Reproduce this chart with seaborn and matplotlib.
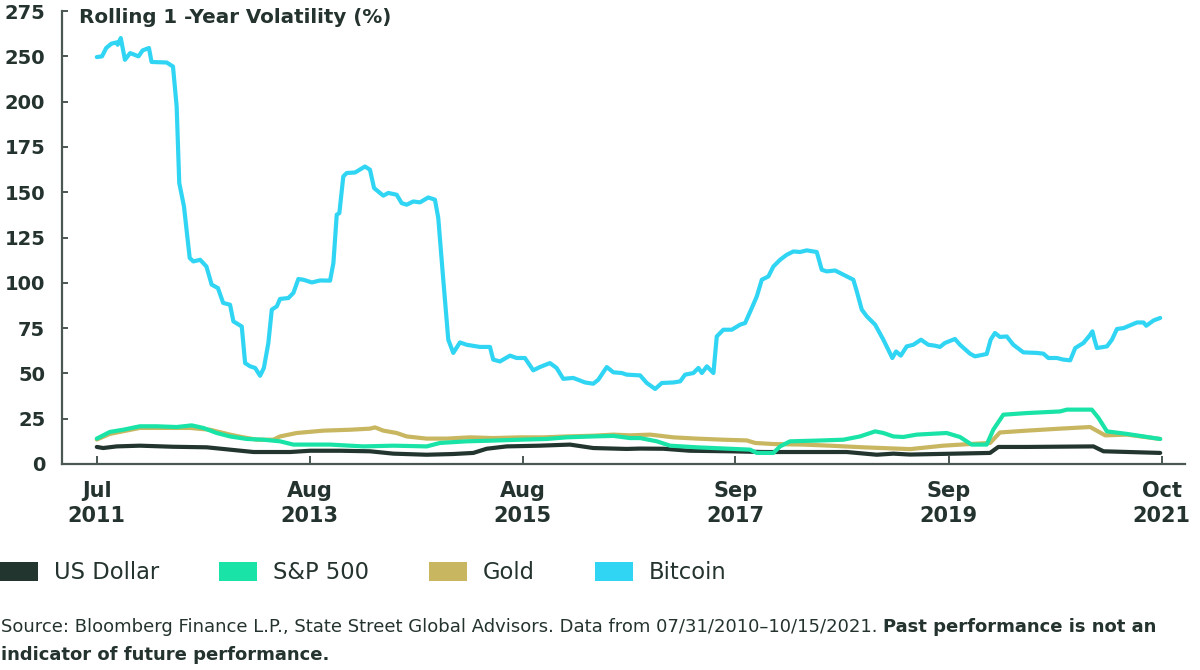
import numpy as np
import pandas as pd
import matplotlib
matplotlib.use("Agg")
import matplotlib.pyplot as plt
from matplotlib.patches import Patch
import seaborn as sns

sns.set_theme(style="white")
plt.rcParams["font.family"] = ["DejaVu Sans"]

# ---------------- data (decimal years, volatility %) ----------------
series_names = ["US Dollar", "S&P 500", "Gold", "Bitcoin"]
series_colors = ["#22362f", "#19e3a6", "#c8b660", "#30d5f3"]

btc_year = [2011.58, 2011.63, 2011.67, 2011.72, 2011.77, 2011.78, 2011.81, 2011.85, 2011.90, 2011.98,
            2012.02, 2012.08, 2012.105, 2012.25, 2012.31, 2012.345, 2012.37, 2012.415, 2012.47, 2012.505,
            2012.57, 2012.63, 2012.68, 2012.74, 2012.79, 2012.856, 2012.888, 2012.968, 2013.00, 2013.048,
            2013.096, 2013.144, 2013.18, 2013.223, 2013.256, 2013.304, 2013.335, 2013.415, 2013.463, 2013.511,
            2013.559, 2013.64, 2013.72, 2013.815, 2013.847, 2013.879, 2013.904, 2013.942, 2013.975, 2014.055,
            2014.150, 2014.198, 2014.237, 2014.278, 2014.326, 2014.374, 2014.454, 2014.502, 2014.550, 2014.613,
            2014.678, 2014.757, 2014.821, 2014.853, 2014.901, 2014.949, 2014.997, 2015.061, 2015.125, 2015.253,
            2015.349, 2015.380, 2015.445, 2015.541, 2015.605, 2015.684, 2015.764, 2015.828, 2015.924, 2015.988,
            2016.052, 2016.147, 2016.260, 2016.339, 2016.387, 2016.468, 2016.531, 2016.612, 2016.659, 2016.787,
            2016.851, 2016.931, 2016.995, 2017.106, 2017.171, 2017.218, 2017.298, 2017.346, 2017.379, 2017.427,
            2017.490, 2017.522, 2017.585, 2017.666, 2017.746, 2017.794, 2017.858, 2017.906, 2017.954, 2018.017,
            2018.065, 2018.129, 2018.194, 2018.257, 2018.321, 2018.385, 2018.481, 2018.529, 2018.577, 2018.657,
            2018.769, 2018.832, 2018.865, 2018.913, 2018.961, 2019.041, 2019.120, 2019.206, 2019.242, 2019.287,
            2019.344, 2019.407, 2019.481, 2019.551, 2019.616, 2019.663, 2019.711, 2019.807, 2019.855, 2019.951,
            2019.999, 2020.111, 2020.149, 2020.190, 2020.238, 2020.303, 2020.366, 2020.462, 2020.590, 2020.653,
            2020.701, 2020.782, 2020.845, 2020.910, 2020.958, 2021.037, 2021.095, 2021.123, 2021.143, 2021.166,
            2021.262, 2021.310, 2021.358, 2021.421, 2021.550, 2021.613, 2021.639, 2021.709, 2021.773]
btc_vol = [224.6, 225.0, 229.6, 232.0, 232.7, 231.4, 235.1, 223.1, 226.8, 225.0,
           228.3, 229.6, 221.9, 221.6, 219.4, 197.4, 155.1, 142.2, 113.7, 111.8,
           112.7, 109.0, 99.0, 97.1, 88.9, 87.9, 78.7, 75.9, 55.7, 53.9,
           53.0, 48.7, 53.0, 66.8, 85.2, 87.0, 91.1, 91.6, 94.4, 102.1,
           101.7, 100.2, 101.3, 101.2, 110.9, 137.6, 138.5, 158.7, 160.6, 160.9,
           164.2, 162.4, 152.3, 150.4, 148.1, 149.6, 148.6, 144.0, 143.1, 144.9,
           144.4, 147.1, 145.9, 135.8, 101.7, 68.6, 61.3, 67.1, 65.8, 64.6,
           64.6, 57.6, 56.6, 59.8, 58.5, 58.5, 51.7, 53.5, 55.7, 53.0,
           47.0, 47.5, 45.0, 44.3, 46.5, 53.5, 50.6, 50.2, 49.3, 48.9,
           44.7, 41.4, 44.7, 45.0, 45.6, 49.3, 50.2, 53.0, 50.2, 53.9,
           50.2, 70.4, 74.1, 74.1, 76.9, 77.8, 86.1, 92.5, 101.7, 103.5,
           109.0, 112.7, 115.5, 117.3, 117.0, 117.9, 117.0, 107.2, 106.3, 106.8,
           103.5, 101.7, 95.3, 85.2, 81.5, 76.9, 68.6, 58.5, 62.1, 59.8,
           64.9, 65.8, 68.6, 65.8, 65.3, 64.6, 66.8, 69.0, 65.8, 60.9,
           59.4, 60.7, 68.6, 72.3, 70.1, 70.4, 65.8, 61.6, 61.3, 60.9,
           58.5, 58.5, 57.6, 57.2, 64.0, 66.8, 70.8, 73.2, 68.6, 64.0,
           64.9, 68.6, 74.5, 75.0, 78.1, 78.1, 76.3, 79.2, 80.6]

spx_year = [2011.58, 2011.706, 2011.833, 2011.993, 2012.153, 2012.345, 2012.489, 2012.600, 2012.728, 2012.856,
            2013.016, 2013.175, 2013.335, 2013.463, 2013.623, 2013.815, 2014.007, 2014.134, 2014.422, 2014.742,
            2014.869, 2015.125, 2015.380, 2015.636, 2015.892, 2016.084, 2016.339, 2016.531, 2016.691, 2016.787,
            2016.947, 2017.074, 2017.330, 2017.650, 2017.842, 2017.906, 2018.065, 2018.129, 2018.225, 2018.481,
            2018.736, 2018.896, 2019.041, 2019.120, 2019.216, 2019.311, 2019.440, 2019.727, 2019.855, 2019.967,
            2020.111, 2020.174, 2020.270, 2020.494, 2020.813, 2020.878, 2021.117, 2021.181, 2021.262, 2021.453,
            2021.773]
spx_vol = [14.0, 17.7, 18.9, 20.8, 20.8, 20.4, 21.3, 19.9, 17.1, 15.2,
           13.8, 13.4, 12.5, 10.7, 10.7, 10.7, 10.1, 9.7, 10.1, 9.7,
           11.6, 12.5, 12.9, 13.4, 13.8, 14.7, 15.2, 15.5, 14.3, 14.3,
           12.5, 10.1, 9.2, 8.4, 7.9, 6.1, 6.1, 9.7, 12.5, 12.9,
           13.4, 15.2, 18.0, 17.1, 15.2, 14.9, 16.2, 17.1, 14.9, 10.7,
           10.7, 18.9, 27.2, 28.1, 29.0, 30.0, 30.0, 25.4, 18.0, 16.6,
           13.8]

gold_year = [2011.58, 2011.706, 2011.993, 2012.472, 2012.664, 2012.856, 2012.984, 2013.112, 2013.271, 2013.335,
             2013.495, 2013.751, 2014.007, 2014.198, 2014.246, 2014.326, 2014.454, 2014.550, 2014.742, 2014.934,
             2015.157, 2015.380, 2015.636, 2015.860, 2016.084, 2016.339, 2016.531, 2016.691, 2016.883, 2017.106,
             2017.330, 2017.585, 2017.810, 2017.890, 2018.065, 2018.353, 2018.609, 2018.928, 2019.376, 2019.695,
             2019.951, 2020.143, 2020.238, 2020.494, 2020.813, 2021.101, 2021.245, 2021.453, 2021.773]
gold_vol = [13.5, 16.6, 19.9, 19.9, 18.9, 16.2, 14.7, 13.4, 13.4, 15.2,
            17.1, 18.4, 18.9, 19.5, 20.2, 18.4, 17.1, 15.2, 14.0, 14.0,
            14.7, 14.3, 14.7, 14.7, 15.2, 15.6, 16.2, 15.8, 16.2, 14.7,
            14.0, 13.4, 13.0, 11.6, 11.0, 10.7, 10.1, 9.2, 8.2, 10.1,
            11.0, 11.6, 17.4, 18.4, 19.5, 20.4, 15.8, 16.2, 13.8]

usd_year = [2011.58, 2011.641, 2011.770, 2011.993, 2012.312, 2012.633, 2012.856, 2013.080, 2013.431, 2013.623,
            2013.911, 2014.198, 2014.422, 2014.742, 2014.997, 2015.189, 2015.317, 2015.509, 2015.828, 2016.116,
            2016.339, 2016.659, 2016.787, 2017.010, 2017.265, 2017.650, 2017.969, 2018.289, 2018.769, 2019.057,
            2019.216, 2019.376, 2020.143, 2020.222, 2020.494, 2021.133, 2021.229, 2021.773]
usd_vol = [9.4, 8.8, 9.7, 10.1, 9.5, 9.2, 7.9, 6.6, 6.6, 7.3,
           7.3, 7.0, 5.7, 5.1, 5.5, 6.1, 8.4, 9.7, 10.1, 10.7,
           8.8, 8.3, 8.5, 8.4, 7.3, 7.0, 6.6, 6.6, 6.6, 5.1,
           5.7, 5.2, 6.1, 9.4, 9.4, 9.7, 7.0, 6.1]

ytick_values = [0, 25, 50, 75, 100, 125, 150, 175, 200, 225, 250]
ytick_labels = ["0", "25", "50", "75", "100", "125", "150", "175", "200", "250", "275"]
xtick_dates = ["2011-07-31", "2013-08-15", "2015-08-31", "2017-09-14", "2019-09-30", "2021-10-15"]
xtick_labels = ["Jul\n2011", "Aug\n2013", "Aug\n2015", "Sep\n2017", "Sep\n2019", "Oct\n2021"]

title_text = "Rolling 1 -Year Volatility (%)"
source_regular = ("Source: Bloomberg Finance L.P., State Street Global Advisors. "
                  "Data from 07/31/2010\u201310/15/2021. ")
source_bold_1 = "Past performance is not an"
source_bold_2 = "indicator of future performance."


def to_dates(years):
    out = []
    for t in years:
        y = int(t)
        start = pd.Timestamp(year=y, month=1, day=1)
        ndays = (pd.Timestamp(year=y + 1, month=1, day=1) - start).days
        out.append(start + pd.Timedelta(days=(t - y) * ndays))
    return out


frames = []
for name, yrs, vals in [("US Dollar", usd_year, usd_vol), ("S&P 500", spx_year, spx_vol),
                        ("Gold", gold_year, gold_vol), ("Bitcoin", btc_year, btc_vol)]:
    frames.append(pd.DataFrame({"date": to_dates(yrs), "vol": vals, "asset": name}))
df = pd.concat(frames, ignore_index=True)

palette = dict(zip(series_names, series_colors))
draw_order = ["US Dollar", "Gold", "S&P 500", "Bitcoin"]

text_color = "#24332f"
axis_color = "#4a5753"

fig = plt.figure(figsize=(12, 6.7), dpi=100)
ax = fig.add_axes([0.0517, 0.3075, 0.9358, 0.676])

sns.lineplot(data=df, x="date", y="vol", hue="asset", hue_order=draw_order, palette=palette,
             linewidth=3, ax=ax, legend=False, sort=False, estimator=None)

ax.set_xlim(pd.Timestamp("2011-04-01"), pd.Timestamp("2022-01-05"))
ax.set_ylim(0, 250)
ax.set_xlabel("")
ax.set_ylabel("")

for side in ["top", "right"]:
    ax.spines[side].set_visible(False)
for side in ["left", "bottom"]:
    ax.spines[side].set_color(axis_color)
    ax.spines[side].set_linewidth(1.6)

ax.set_yticks(ytick_values)
ax.set_yticklabels(ytick_labels)
ax.set_xticks(pd.to_datetime(xtick_dates))
ax.set_xticklabels(xtick_labels, linespacing=1.35)

ax.tick_params(axis="y", direction="in", length=4, width=1.4, color=axis_color, pad=12,
               labelsize=14, labelcolor=text_color, left=True)
ax.tick_params(axis="x", direction="in", length=6, width=1.4, color=axis_color, pad=12,
               labelsize=15, labelcolor=text_color, bottom=True)
for lab in ax.get_yticklabels() + ax.get_xticklabels():
    lab.set_fontweight("bold")
ax.grid(False)

fig.text(0.066, 0.988, title_text, ha="left", va="top", fontsize=14.3, fontweight="bold",
         color=text_color)

handles = [Patch(facecolor=palette[n], edgecolor="none", label=n) for n in series_names]
fig.legend(handles=handles, loc="center left", bbox_to_anchor=(0.0, 0.145), ncol=4,
           frameon=False, fontsize=16.3, handlelength=1.68, handleheight=0.9,
           handletextpad=0.7, columnspacing=2.65, borderpad=0, borderaxespad=0,
           labelcolor=text_color)

t1 = fig.text(0.001, 0.064, source_regular, ha="left", va="center", fontsize=13, color=text_color)
fig.canvas.draw()
renderer = fig.canvas.get_renderer()
bb = t1.get_window_extent(renderer=renderer)
x_after = bb.x1 / fig.bbox.width
fig.text(x_after, 0.064, source_bold_1, ha="left", va="center", fontsize=13,
         fontweight="bold", color=text_color)
fig.text(0.001, 0.022, source_bold_2, ha="left", va="center", fontsize=13,
         fontweight="bold", color=text_color)

fig.savefig("out.png", dpi=100)
